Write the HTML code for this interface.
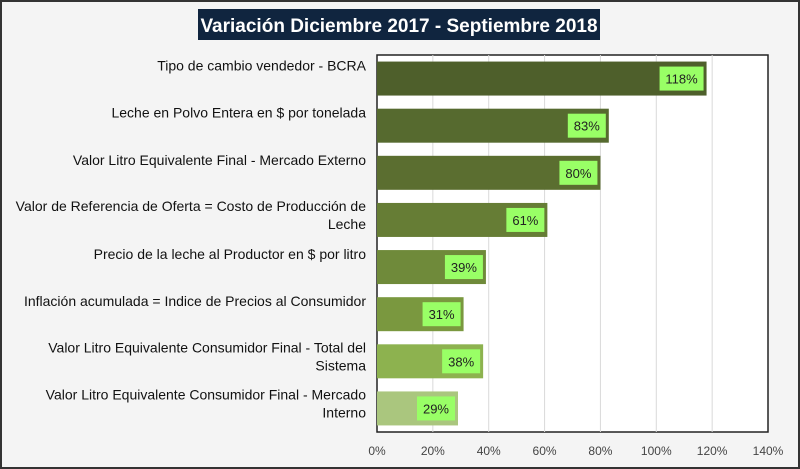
<!DOCTYPE html>
<html><head><meta charset="utf-8"><style>
html,body{margin:0;padding:0;background:#fff}
svg{display:block;font-family:"Liberation Sans",sans-serif}
</style></head><body>
<svg id="chart" width="800" height="469">
<rect x="1" y="1" width="798" height="467" fill="#f4f4f4" stroke="#333" stroke-width="2"/>
<rect x="198" y="9" width="402" height="31" fill="#10253f"/>
<text x="399" y="32" text-anchor="middle" fill="#fff" font-size="19" font-weight="bold">Variación Diciembre 2017 - Septiembre 2018</text>
<rect x="377" y="55" width="391" height="377" fill="#fff" stroke="#222" stroke-width="1.5"/>
<g id="grid"></g><g id="bars"></g><g id="labels"></g><g id="ticks"></g>
</svg>
<script>
const categories=[["Tipo de cambio vendedor - BCRA"],["Leche en Polvo Entera en $ por tonelada"],["Valor Litro Equivalente Final - Mercado Externo"],["Valor de Referencia de Oferta = Costo de Producción de","Leche"],["Precio de la leche al Productor en $ por litro"],["Inflación acumulada = Indice de Precios al Consumidor"],["Valor Litro Equivalente Consumidor Final - Total del","Sistema"],["Valor Litro Equivalente Consumidor Final - Mercado","Interno"]];
const values=[118,83,80,61,39,31,38,29];
const valueLabels=["118%","83%","80%","61%","39%","31%","38%","29%"];
const tickValues=[0,20,40,60,80,100,120,140];
const tickLabels=["0%","20%","40%","60%","80%","100%","120%","140%"];
const colors=["#4e5f2b","#566a2f","#5b6e30","#667d35","#6f8a3a","#7a983f","#8db24f","#aac67e"];
const NS="http://www.w3.org/2000/svg";
const X0=377,X1=768,Y0=55,Y1=432,MAX=140;
const xs=v=>X0+(v/MAX)*(X1-X0);
const band=(Y1-Y0)/categories.length;
function mk(tag,attrs,parent){const e=document.createElementNS(NS,tag);for(const k in attrs)e.setAttribute(k,attrs[k]);document.getElementById(parent).appendChild(e);return e;}
tickValues.forEach((t,i)=>{
 if(i>0&&i<tickValues.length-1){const g=mk("line",{x1:xs(t),x2:xs(t),y1:Y0,y2:Y1,stroke:"#d9d9d9"},"grid");
 
 }
 const tx=mk("text",{x:xs(t),y:455,"text-anchor":"middle","font-size":"12",fill:"#444"},"ticks");
 tx.textContent=tickLabels[i];
 
 
});
values.forEach((v,i)=>{
 const cy=Y0+band*(i+0.5);
 const r=mk("rect",{x:X0,y:cy-17,width:xs(v)-X0,height:34,fill:colors[i]},"bars");
 
 
 const bw=valueLabels[i].length>3?44:38;
 const bx=mk("rect",{x:xs(v)-3-bw,y:cy-12,width:bw,height:24,fill:"#99ff66"},"bars");
 
 
 const vt=mk("text",{x:xs(v)-3-bw/2,y:cy+5,"text-anchor":"middle","font-size":"13",fill:"#222"},"bars");
 vt.textContent=valueLabels[i];
 
 
 const lines=categories[i];
 lines.forEach((ln,j)=>{
  const y=lines.length===1?cy-8:cy-9+j*18;
  const t=mk("text",{x:366,y:y,"text-anchor":"end","font-size":"14",fill:"#111"},"labels");
  t.textContent=ln;
  
  
 });
});
</script>
</body></html>
